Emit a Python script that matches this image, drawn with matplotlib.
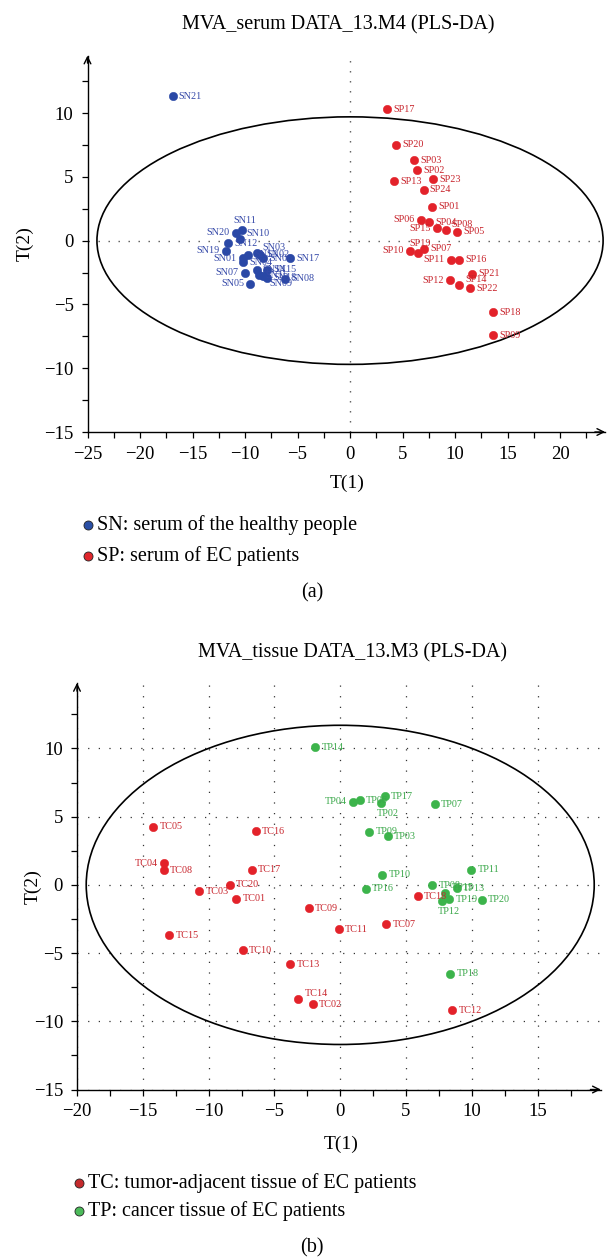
import matplotlib
matplotlib.use("Agg")
import matplotlib.pyplot as plt
from matplotlib.patches import Ellipse
from matplotlib.lines import Line2D
from matplotlib.ticker import MultipleLocator

plt.rcParams["font.family"] = ["Liberation Serif", "DejaVu Serif"]

# ---------------- (a) serum scores ----------------
sn_names = ["SN01", "SN02", "SN03", "SN04", "SN05", "SN06", "SN07", "SN08", "SN09", "SN10", "SN11",
            "SN12", "SN13", "SN14", "SN15", "SN16", "SN17", "SN18", "SN19", "SN20", "SN21"]
sn_t1 = [-10.2, -8.6, -8.9, -10.2, -9.5, -8.3, -10.0, -6.2, -8.3, -10.5, -10.3,
         -11.6, -9.7, -8.9, -7.9, -8.7, -5.7, -7.9, -11.8, -10.9, -16.9]
sn_t2 = [-1.4, -1.1, -1.0, -1.7, -3.4, -1.4, -2.5, -3.0, -2.8, 0.1, 0.8,
         -0.2, -1.1, -2.3, -2.3, -2.7, -1.4, -2.9, -0.8, 0.6, 11.3]

sp_names = ["SP01", "SP02", "SP03", "SP04", "SP05", "SP06", "SP07", "SP08", "SP09", "SP10", "SP11", "SP12",
            "SP13", "SP14", "SP15", "SP16", "SP17", "SP18", "SP19", "SP20", "SP21", "SP22", "SP23", "SP24"]
sp_t1 = [7.85, 6.35, 6.1, 7.5, 10.2, 6.75, 7.05, 9.1, 13.65, 5.7, 9.6, 9.5,
         4.2, 10.4, 8.3, 10.4, 3.5, 13.65, 6.45, 4.35, 11.65, 11.4, 7.9, 7.0]
sp_t2 = [2.65, 5.5, 6.3, 1.45, 0.7, 1.65, -0.65, 0.85, -7.4, -0.8, -1.5, -3.1,
         4.65, -3.5, 0.95, -1.5, 10.3, -5.6, -1.0, 7.5, -2.6, -3.75, 4.8, 4.0]

serum_ellipse = (24.1, 9.7)

# ---------------- (b) tissue scores ----------------
tc_names = ["TC01", "TC02", "TC03", "TC04", "TC05", "TC07", "TC08", "TC09", "TC10", "TC11",
            "TC12", "TC13", "TC14", "TC15", "TC16", "TC17", "TC18", "TC20"]
tc_t1 = [-7.9, -2.1, -10.7, -13.4, -14.2, 3.5, -13.4, -2.4, -7.4, -0.1,
         8.5, -3.8, -3.2, -13.0, -6.4, -6.7, 5.9, -8.4]
tc_t2 = [-1.0, -8.75, -0.45, 1.6, 4.25, -2.9, 1.08, -1.7, -4.8, -3.25,
         -9.2, -5.8, -8.4, -3.7, 3.95, 1.12, -0.85, 0.0]

tp_names = ["TP02", "TP03", "TP04", "TP06", "TP07", "TP08", "TP09", "TP10", "TP11", "TP12",
            "TP13", "TP14", "TP15", "TP16", "TP17", "TP18", "TP19", "TP20"]
tp_t1 = [3.1, 3.6, 0.94, 1.5, 7.2, 7.0, 2.2, 3.2, 9.97, 7.7,
         8.86, -1.9, 7.97, 1.95, 3.37, 8.35, 8.3, 10.76]
tp_t2 = [6.0, 3.55, 6.1, 6.2, 5.9, -0.02, 3.9, 0.73, 1.1, -1.2,
         -0.25, 10.1, -0.6, -0.3, 6.5, -6.5, -1.05, -1.1]

tissue_ellipse = (19.3, 11.7)

# label placement (default: right of the dot)
label_side = {
    "SN11": "above", "SN20": "left", "SN19": "left", "SN01": "left", "SN07": "left",
    "SN05": "left", "SN09": "downright", "SN03": "upright", "SN10": "upright",
    "SP06": "left", "SP15": "left", "SP10": "left", "SP11": "left", "SP12": "left",
    "SP19": "above", "SP08": "upright", "SP14": "upright",
    "TC04": "left", "TC14": "upright",
    "TP04": "left", "TP02": "below", "TP15": "upright", "TP12": "below",
}
offsets = {
    "right": ((4.5, 0), "left", "center"),
    "left": ((-4.5, 0), "right", "center"),
    "above": ((2, 7), "center", "center"),
    "below": ((5, -7.5), "center", "center"),
    "upright": ((4.5, 4), "left", "center"),
    "downright": ((4.5, -5), "left", "center"),
}

W, H = 607, 1258


def fpos(px, py):
    return px / W, 1 - py / H


def draw_group(ax, names, t1, t2, dot_color, text_color):
    ax.scatter(t1, t2, s=36, color=dot_color, edgecolors=dot_color, linewidths=0.4, zorder=4)
    for n, x, y in zip(names, t1, t2):
        off, ha, va = offsets[label_side.get(n, "right")]
        ax.annotate(n, (x, y), xytext=off, textcoords="offset points", ha=ha, va=va,
                    fontsize=7.3, color=text_color, zorder=5)


def style_axes(ax, xlim, ylim):
    ax.set_xlim(*xlim)
    ax.set_ylim(*ylim)
    ax.spines["top"].set_visible(False)
    ax.spines["right"].set_visible(False)
    for s in ("left", "bottom"):
        ax.spines[s].set_linewidth(1.0)
    ax.xaxis.set_major_locator(MultipleLocator(5))
    ax.xaxis.set_minor_locator(MultipleLocator(2.5))
    ax.yaxis.set_major_locator(MultipleLocator(5))
    ax.yaxis.set_minor_locator(MultipleLocator(2.5))
    ax.tick_params(which="both", direction="out", length=4, width=0.9, labelsize=13.5, pad=6)
    arrow = dict(arrowstyle="->", lw=1.0, color="black", shrinkA=0, shrinkB=0, mutation_scale=12)
    ax.annotate("", xy=(1, 0), xytext=(0.98, 0), xycoords="axes fraction", arrowprops=arrow)
    ax.annotate("", xy=(0, 1), xytext=(0, 0.98), xycoords="axes fraction", arrowprops=arrow)
    ax.set_xlabel("T(1)", fontsize=14)
    ax.set_ylabel("T(2)", fontsize=14)
    ax.xaxis.label.set_va("center")
    ax.yaxis.label.set_va("center")


fig = plt.figure(figsize=(W / 100, H / 100), dpi=100)

# axes rectangles from pixel geometry
ax1 = fig.add_axes([87.5 / W, 1 - 432 / H, (605.2 - 87.5) / W, (432 - 55.6) / H])
ax2 = fig.add_axes([77 / W, 1 - 1089.5 / H, (600.8 - 77) / W, (1089.5 - 683) / H])

# ---- panel (a)
style_axes(ax1, (-25, 24.3), (-15, 14.5))
dot_line = dict(color="#555555", lw=1.0, linestyle=(0, (1, 6.2)), zorder=1)
ax1.axhline(0, **dot_line)
ax1.axvline(0, **dot_line)
ax1.add_patch(Ellipse((0, 0), 2 * serum_ellipse[0], 2 * serum_ellipse[1], fill=False,
                      edgecolor="black", lw=1.2, zorder=2))
draw_group(ax1, sn_names, sn_t1, sn_t2, "#2a48a6", "#3448a8")
draw_group(ax1, sp_names, sp_t1, sp_t2, "#e3222a", "#c8242c")
ax1.xaxis.set_label_coords(0.501, -0.1355)
ax1.yaxis.set_label_coords(-0.12, 0.5)

# ---- panel (b)
style_axes(ax2, (-20, 19.8), (-15, 14.8))
ax2.grid(which="major", color="#333333", lw=0.9, linestyle=(0, (1, 7.5)), zorder=1)
ax2.add_patch(Ellipse((0, 0), 2 * tissue_ellipse[0], 2 * tissue_ellipse[1], fill=False,
                      edgecolor="black", lw=1.2, zorder=2))
draw_group(ax2, tc_names, tc_t1, tc_t2, "#e3222a", "#c8242c")
draw_group(ax2, tp_names, tp_t1, tp_t2, "#3cb44b", "#3aa84a")
ax2.xaxis.set_label_coords(0.504, -0.135)
ax2.yaxis.set_label_coords(-0.084, 0.5)

# titles
fig.text(*fpos(338, 25), "MVA_serum DATA_13.M4 (PLS-DA)", ha="center", va="center", fontsize=14.5)
fig.text(*fpos(352, 653), "MVA_tissue DATA_13.M3 (PLS-DA)", ha="center", va="center", fontsize=14.5)

# legends
legend_rows = [
    (88, 525, "#2a4fa5", "SN: serum of the healthy people"),
    (88, 556, "#e0262c", "SP: serum of EC patients"),
    (79, 1183, "#c42a2c", "TC: tumor-adjacent tissue of EC patients"),
    (79, 1211, "#4cba5a", "TP: cancer tissue of EC patients"),
]
for px, py, c, txt in legend_rows:
    fx, fy = fpos(px, py)
    fig.add_artist(Line2D([fx], [fy], marker="o", markersize=6.5, markerfacecolor=c,
                          markeredgecolor="#222222", markeredgewidth=0.6, linestyle="none",
                          transform=fig.transFigure))
    fig.text(fx + 9 / W, fy, txt, ha="left", va="center", fontsize=14.5)

fig.text(*fpos(312, 593), "(a)", ha="center", va="center", fontsize=14.5)
fig.text(*fpos(312, 1248), "(b)", ha="center", va="center", fontsize=14.5)

fig.savefig("out.png", dpi=100)
